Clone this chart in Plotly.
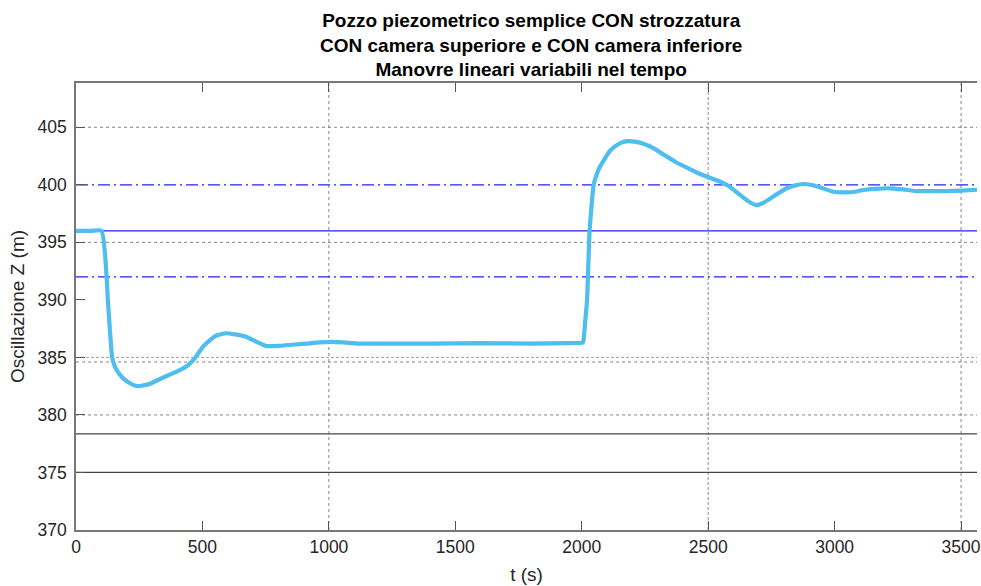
import plotly.graph_objects as go

# Surge-tank water level over time (simulated response to linear valve manoeuvres)
t_s = [0, 60, 101, 121, 126, 134, 143, 154, 170, 186, 210, 245, 291, 330, 370, 410, 442, 465,
       485, 505, 530, 554, 593, 630, 672, 710, 751, 800, 856, 910, 961, 1010, 1060, 1118, 1200, 1400,
       1600, 1800, 1950, 2004, 2007, 2014, 2021, 2031, 2047, 2056, 2070, 2089, 2110, 2129,
       2155, 2181, 2210, 2247, 2290, 2326, 2378, 2420, 2457, 2496, 2548, 2581, 2627, 2660,
       2690, 2715, 2745, 2780, 2811, 2845, 2877, 2910, 2942, 2995, 3034, 3080, 3113, 3160,
       3217, 3270, 3323, 3380, 3441, 3500, 3563]
z_m = [396.0, 396.0, 396.0, 392.0, 390.0, 387.4, 385.0, 384.2, 383.6, 383.2, 382.8, 382.5,
       382.7, 383.1, 383.5, 383.9, 384.3, 384.8, 385.4, 386.0, 386.5, 386.9, 387.1, 387.0, 386.8,
       386.4, 386.0, 386.0, 386.1, 386.2, 386.3, 386.35, 386.3, 386.2, 386.2, 386.2, 386.25, 386.2,
       386.25, 386.3, 386.5, 388.2, 390.0, 396.0, 400.0, 400.7, 401.5, 402.2, 402.9, 403.3,
       403.65, 403.8, 403.75, 403.55, 403.1, 402.6, 401.9, 401.45, 401.05, 400.7, 400.27,
       399.9, 399.1, 398.55, 398.24, 398.4, 398.8, 399.3, 399.7, 399.95, 400.07, 399.98,
       399.78, 399.4, 399.35, 399.4, 399.55, 399.65, 399.7, 399.6, 399.46, 399.45, 399.46,
       399.5, 399.57]

# Reference levels (m)
z_static = 396.0                 # static level
z_band = [392.0, 400.0]          # limits around the static level
z_bottom = [375.0, 378.35]       # lower chamber levels
z_guides_dot = [405.0, 395.0, 384.6, 380.0]
z_guide_dash = 385.0
t_guides_dot = [1000, 3500]
t_guide_dash = 2500

x_ticks = [0, 500, 1000, 1500, 2000, 2500, 3000, 3500]
y_ticks = [370, 375, 380, 385, 390, 395, 400, 405]
x_range = [0, 3563]
y_range = [370, 408.85]

title_lines = ["Pozzo piezometrico semplice CON strozzatura",
               "CON camera superiore e CON camera inferiore",
               "Manovre lineari variabili nel tempo"]

fig = go.Figure()

shapes = []
grid_col = "rgba(120,120,120,0.9)"
for z in z_guides_dot:
    shapes.append(dict(type="line", xref="paper", x0=0, x1=1, yref="y", y0=z, y1=z,
                       line=dict(color=grid_col, width=1, dash="dot"), layer="below"))
shapes.append(dict(type="line", xref="paper", x0=0, x1=1, yref="y", y0=z_guide_dash, y1=z_guide_dash,
                   line=dict(color="rgba(150,150,150,0.9)", width=1, dash="3px,2px"), layer="below"))
for t in t_guides_dot:
    shapes.append(dict(type="line", yref="paper", y0=0, y1=1, xref="x", x0=t, x1=t,
                       line=dict(color=grid_col, width=1, dash="dot"), layer="below"))
shapes.append(dict(type="line", yref="paper", y0=0, y1=1, xref="x", x0=t_guide_dash, x1=t_guide_dash,
                   line=dict(color="rgba(150,150,150,0.9)", width=1.2, dash="3px,2px"), layer="below"))
for z in z_bottom:
    shapes.append(dict(type="line", xref="paper", x0=0, x1=1, yref="y", y0=z, y1=z,
                       line=dict(color="#444444", width=1.3), layer="below"))
shapes.append(dict(type="line", xref="paper", x0=0, x1=1, yref="y", y0=z_static, y1=z_static,
                   line=dict(color="#2020ff", width=1.3), layer="below"))
for z in z_band:
    shapes.append(dict(type="line", xref="paper", x0=0, x1=1, yref="y", y0=z, y1=z,
                       line=dict(color="#2020ff", width=1.3, dash="12px,4px,2px,4px"), layer="below"))

fig.add_trace(go.Scatter(x=t_s, y=z_m, mode="lines",
                         line=dict(color="#4DBEEE", width=4.2, shape="spline", smoothing=0.5),
                         showlegend=False, hoverinfo="skip"))

font_family = "Liberation Sans, Arial, sans-serif"
axis_col = "#777777"

# Three-line bold title placed just above the plot area
fig.add_annotation(
    text="<b>" + "<br>".join(title_lines) + "</b>",
    xref="paper", yref="paper", x=0.505, y=1, xanchor="center", yanchor="bottom",
    yshift=1, showarrow=False, align="center",
    font=dict(family=font_family, size=19, color="#000000"),
)

fig.update_layout(
    width=981, height=586,
    margin=dict(l=76, r=0, t=83, b=56),
    paper_bgcolor="white", plot_bgcolor="white",
    shapes=shapes,
    font=dict(family=font_family, color="#262626", size=17.5),
    xaxis=dict(
        range=x_range, tickvals=x_ticks, ticktext=[str(v) for v in x_ticks],
        showgrid=False, zeroline=False,
        showline=True, linecolor=axis_col, linewidth=1.5, mirror="ticks",
        ticks="inside", ticklen=9, tickcolor="#555555", tickwidth=1,
        ticklabeloverflow="allow",
        tickfont=dict(size=17.5, color="#262626"),
        title=dict(text="t (s)", font=dict(size=19, color="#262626"), standoff=12),
    ),
    yaxis=dict(
        range=y_range, tickvals=y_ticks, ticktext=[str(v) for v in y_ticks],
        showgrid=False, zeroline=False,
        showline=True, linecolor=axis_col, linewidth=1.5, mirror=False,
        ticks="inside", ticklen=9, tickcolor="#555555", tickwidth=1,
        tickfont=dict(size=17.5, color="#262626"),
        ticklabelstandoff=4,
        title=dict(text="Oscillazione Z (m)", font=dict(size=19, color="#262626"), standoff=8),
    ),
)

fig.write_html("out.html")
